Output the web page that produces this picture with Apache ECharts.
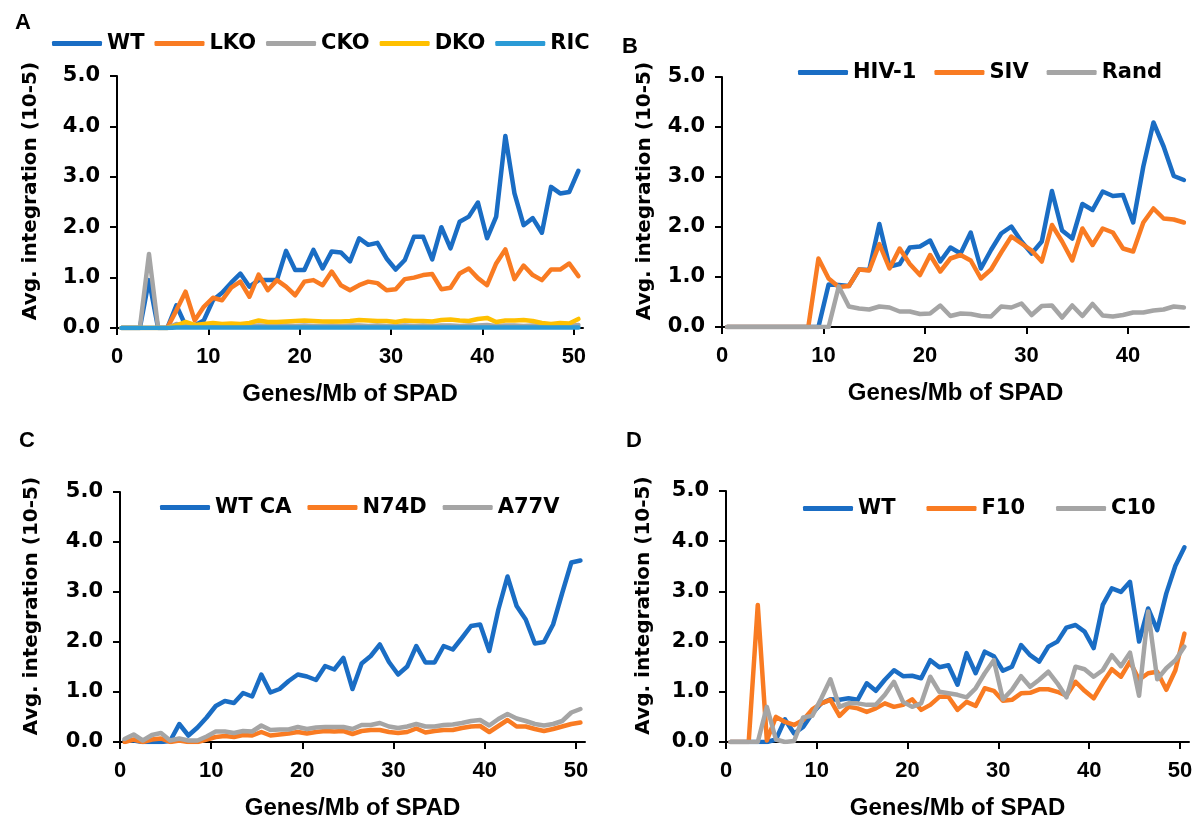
<!DOCTYPE html>
<html><head><meta charset="utf-8">
<script src="https://cdn.jsdelivr.net/npm/echarts@6/dist/echarts.min.js"></script>
<style>html,body{margin:0;padding:0;background:#fff}#c{width:1204px;height:821px}</style>
</head><body><div id="c"></div>
<script>
// ---- tick labels ----
const xTicks50 = [0, 10, 20, 30, 40, 50];
const xTicks40 = [0, 10, 20, 30, 40];
const yTicks = [0, 1, 2, 3, 4, 5];

// ---- bin centres (Genes/Mb of SPAD) ----
const bins51 = [0.5,1.5,2.5,3.5,4.5,5.5,6.5,7.5,8.5,9.5,10.5,11.5,12.5,13.5,14.5,15.5,16.5,17.5,18.5,19.5,20.5,21.5,22.5,23.5,24.5,25.5,26.5,27.5,28.5,29.5,30.5,31.5,32.5,33.5,34.5,35.5,36.5,37.5,38.5,39.5,40.5,41.5,42.5,43.5,44.5,45.5,46.5,47.5,48.5,49.5,50.5];
const bins46 = [0.5,1.5,2.5,3.5,4.5,5.5,6.5,7.5,8.5,9.5,10.5,11.5,12.5,13.5,14.5,15.5,16.5,17.5,18.5,19.5,20.5,21.5,22.5,23.5,24.5,25.5,26.5,27.5,28.5,29.5,30.5,31.5,32.5,33.5,34.5,35.5,36.5,37.5,38.5,39.5,40.5,41.5,42.5,43.5,44.5,45.5];

// ---- Panel A ----
const A_WT  = [0,0,0,0.95,0,0,0.45,0.05,0.05,0.15, 0.55,0.7,0.9,1.08,0.82,0.95,0.95,0.95,1.53,1.15, 1.15,1.55,1.18,1.52,1.5,1.32,1.78,1.65,1.69,1.38, 1.16,1.35,1.81,1.81,1.36,2.0,1.58,2.11,2.21,2.49, 1.78,2.21,3.81,2.67,2.04,2.18,1.89,2.8,2.67,2.7, 3.12];
const A_LKO = [0,0,0,0,0,0,0.35,0.72,0.15,0.42, 0.6,0.55,0.8,0.92,0.62,1.06,0.75,0.95,0.82,0.65, 0.92,0.95,0.85,1.12,0.85,0.75,0.85,0.92,0.89,0.75, 0.77,0.97,1.0,1.05,1.07,0.77,0.8,1.08,1.18,0.99, 0.85,1.28,1.56,0.97,1.24,1.05,0.95,1.16,1.16,1.28, 1.03];
const A_CKO = [0,0,0,1.47,0,0,0.08,0.04,0.03,0.04, 0.03,0.04,0.03,0.04,0.04,0.05,0.04,0.04,0.05,0.04, 0.05,0.04,0.04,0.05,0.04,0.05,0.05,0.04,0.05,0.04, 0.04,0.05,0.04,0.05,0.04,0.05,0.05,0.04,0.05,0.05, 0.06,0.04,0.05,0.05,0.04,0.05,0.04,0.04,0.05,0.04, 0.06];
const A_DKO = [0,0,0,0,0,0,0.05,0.12,0.06,0.08, 0.1,0.08,0.09,0.08,0.1,0.15,0.12,0.12,0.13,0.14, 0.15,0.14,0.13,0.13,0.13,0.14,0.16,0.15,0.14,0.14, 0.12,0.15,0.14,0.14,0.13,0.16,0.17,0.15,0.14,0.18, 0.2,0.12,0.15,0.15,0.16,0.14,0.1,0.08,0.1,0.09, 0.18];
const A_RIC = [0,0,0,0,0,0,0.01,0.01,0.01,0.01, 0.01,0.01,0.01,0.01,0.01,0.01,0.01,0.01,0.01,0.01, 0.01,0.01,0.01,0.01,0.01,0.01,0.01,0.01,0.01,0.01, 0.01,0.01,0.01,0.01,0.01,0.01,0.01,0.01,0.01,0.01, 0.01,0.01,0.01,0.01,0.01,0.01,0.01,0.01,0.01,0.01, 0.01];

// ---- Panel B ----
const B_HIV  = [0,0,0,0,0,0,0,0,0,0, 0.85,0.84,0.82,1.15,1.14,2.06,1.21,1.26,1.59,1.61, 1.73,1.31,1.59,1.47,1.89,1.17,1.54,1.87,2.01,1.71, 1.47,1.71,2.72,1.93,1.77,2.46,2.34,2.71,2.62,2.64, 2.09,3.21,4.09,3.61,3.02,2.94];
const B_SIV  = [0,0,0,0,0,0,0,0,0,1.37, 0.97,0.8,0.82,1.15,1.13,1.66,1.17,1.57,1.26,1.04, 1.44,1.11,1.37,1.44,1.33,0.97,1.15,1.49,1.81,1.67, 1.53,1.31,2.04,1.71,1.33,1.97,1.64,1.97,1.89,1.57, 1.51,2.09,2.37,2.17,2.15,2.09];
const B_Rand = [0,0,0,0,0,0,0,0,0,0, 0,0.81,0.41,0.37,0.35,0.41,0.39,0.31,0.31,0.26, 0.27,0.43,0.22,0.27,0.26,0.22,0.21,0.41,0.39,0.47, 0.24,0.42,0.43,0.19,0.43,0.22,0.46,0.23,0.21,0.24, 0.29,0.29,0.33,0.35,0.41,0.39];

// ---- Panel C ----
const C_WTCA = [0.03,0.03,0,0,0,0.02,0.36,0.13,0.29,0.49, 0.72,0.82,0.78,0.98,0.91,1.35,0.99,1.06,1.22,1.35, 1.31,1.24,1.52,1.45,1.68,1.06,1.57,1.72,1.95,1.6, 1.35,1.51,1.92,1.59,1.59,1.92,1.85,2.08,2.32,2.35, 1.82,2.65,3.31,2.72,2.45,1.97,2.0,2.35,2.98,3.59, 3.63];
const C_N74D = [0,0.05,0,0.05,0.07,0,0.03,0,0,0.05, 0.1,0.12,0.1,0.14,0.13,0.2,0.13,0.15,0.17,0.2, 0.17,0.2,0.22,0.21,0.22,0.16,0.22,0.24,0.24,0.2, 0.18,0.2,0.27,0.19,0.22,0.24,0.24,0.28,0.31,0.32, 0.2,0.32,0.44,0.31,0.31,0.26,0.22,0.26,0.31,0.36, 0.39];
const C_A77V = [0.06,0.15,0.03,0.14,0.18,0.03,0.07,0.03,0.03,0.11, 0.21,0.21,0.18,0.22,0.21,0.33,0.24,0.25,0.25,0.3, 0.26,0.29,0.3,0.3,0.3,0.26,0.34,0.34,0.38,0.31, 0.28,0.31,0.36,0.31,0.31,0.34,0.35,0.38,0.42,0.44, 0.33,0.46,0.56,0.47,0.42,0.36,0.33,0.36,0.42,0.59, 0.66];

// ---- Panel D ----
const D_WT  = [0,0,0,0,0,0.05,0.45,0.17,0.3,0.57, 0.77,0.85,0.84,0.87,0.84,1.17,1.02,1.24,1.43,1.31, 1.32,1.27,1.63,1.49,1.53,1.14,1.77,1.37,1.8,1.71, 1.42,1.5,1.93,1.73,1.6,1.9,2.0,2.28,2.33,2.2, 1.87,2.73,3.06,2.99,3.19,2.0,2.66,2.23,2.96,3.51, 3.88];
const D_F10 = [0,0,0,2.73,0.03,0.5,0.4,0.34,0.44,0.65, 0.77,0.84,0.52,0.7,0.67,0.6,0.67,0.77,0.7,0.74, 0.85,0.64,0.74,0.9,0.9,0.64,0.8,0.72,1.07,1.02, 0.82,0.84,0.97,0.98,1.05,1.05,1.0,0.92,1.2,1.02, 0.87,1.18,1.45,1.3,1.6,1.24,1.37,1.4,1.04,1.43, 2.16];
const D_C10 = [0,0,0,0,0.7,0.05,0,0.02,0.49,0.52, 0.87,1.25,0.7,0.77,0.77,0.74,0.74,0.94,1.2,0.8, 0.7,0.77,1.3,1.0,0.97,0.94,0.89,1.07,1.37,1.63, 0.85,1.04,1.31,1.1,1.24,1.4,1.17,0.89,1.5,1.45, 1.3,1.43,1.73,1.51,1.78,0.92,2.6,1.25,1.47,1.63, 1.9];

const COL = {blue:'#1a6dc4', orange:'#f97b22', grey:'#a5a5a5', yellow:'#ffc000', light:'#2b9bd6'};
const WIDE = 'DejaVu Sans', ARIAL = 'Liberation Sans';

const grids = [
  {left:117, top:76, width:466, height:252},
  {left:722, top:77, width:467, height:250},
  {left:120, top:492, width:465, height:251},
  {left:726, top:491, width:463, height:251}
];

function xAxis(gi, max, ticks){
  return {type:'value', gridIndex:gi, min:0, max:max, interval:10,
    name:'Genes/Mb of SPAD', nameLocation:'middle', nameGap:54,
    nameTextStyle:{fontFamily:ARIAL, fontWeight:'bold', fontSize:24, color:'#000'},
    axisLine:{onZero:false, lineStyle:{color:'#000', width:2}},
    axisTick:{show:true, inside:false, length:7, customValues:ticks, lineStyle:{color:'#000', width:2}},
    axisLabel:{customValues:ticks, margin:18, fontFamily:ARIAL, fontWeight:'bold', fontSize:22, color:'#000'},
    splitLine:{show:false}};
}
function yAxis(gi, gap){
  return {type:'value', gridIndex:gi, min:0, max:5, interval:1,
    name:'Avg. integration (10-5)', nameLocation:'middle', nameGap:gap,
    nameTextStyle:{fontFamily:WIDE, fontWeight:'bold', fontSize:20, color:'#000', padding:[0,0,0,22]},
    axisLine:{show:true, lineStyle:{color:'#000', width:2}},
    axisTick:{show:true, inside:false, length:7, customValues:yTicks, lineStyle:{color:'#000', width:2}},
    axisLabel:{customValues:yTicks, margin:17, fontFamily:WIDE, fontWeight:'bold', fontSize:21, color:'#000',
      formatter:v=>v.toFixed(1)},
    splitLine:{show:false}};
}
function line(name, gi, bins, vals, color){
  return {type:'line', name:name, xAxisIndex:gi, yAxisIndex:gi,
    data:bins.map((x,i)=>[x, vals[i]]),
    symbol:'none', showSymbol:false, smooth:false, animation:false,
    color:color,
    lineStyle:{color:color, width:4.5, cap:'round', join:'round'}};
}
function legend(names, left, top, gap){
  return {data:names, left:left, top:top, itemGap:gap, icon:'roundRect', itemWidth:50, itemHeight:5,
    padding:0, selectedMode:false,
    textStyle:{fontFamily:WIDE, fontWeight:'bold', fontSize:21, color:'#000'}};
}
const letterStyle = {fontFamily:ARIAL, fontWeight:'bold', fontSize:22, color:'#000'};

const option = {
  backgroundColor:'#fff',
  animation:false,
  title:[
    {text:'A', left:15, top:12, padding:0, textStyle:letterStyle},
    {text:'B', left:622, top:36, padding:0, textStyle:letterStyle},
    {text:'C', left:19, top:430, padding:0, textStyle:letterStyle},
    {text:'D', left:626, top:430, padding:0, textStyle:letterStyle}
  ],
  legend:[
    legend(['WT','LKO','CKO','DKO','RIC'], 52, 33, 10),
    legend(['HIV-1','SIV','Rand'], 798, 62, 18),
    legend(['WT CA','N74D','A77V'], 160, 497, 16),
    legend(['WT','F10','C10'], 803, 498, 31)
  ],
  grid:grids,
  xAxis:[xAxis(0,51,xTicks50), xAxis(1,46,xTicks40), xAxis(2,51,xTicks50), xAxis(3,51,xTicks50)],
  yAxis:[yAxis(0,76), yAxis(1,67), yAxis(2,78), yAxis(3,72)],
  series:[
    line('WT',0,bins51,A_WT,COL.blue),
    line('LKO',0,bins51,A_LKO,COL.orange),
    line('CKO',0,bins51,A_CKO,COL.grey),
    line('DKO',0,bins51,A_DKO,COL.yellow),
    line('RIC',0,bins51,A_RIC,COL.light),
    line('HIV-1',1,bins46,B_HIV,COL.blue),
    line('SIV',1,bins46,B_SIV,COL.orange),
    line('Rand',1,bins46,B_Rand,COL.grey),
    line('WT CA',2,bins51,C_WTCA,COL.blue),
    line('N74D',2,bins51,C_N74D,COL.orange),
    line('A77V',2,bins51,C_A77V,COL.grey),
    line('WT',3,bins51,D_WT,COL.blue),
    line('F10',3,bins51,D_F10,COL.orange),
    line('C10',3,bins51,D_C10,COL.grey)
  ]
};
const chart = echarts.init(document.getElementById('c'), null, {renderer:'canvas'});
chart.setOption(option);
</script></body></html>
